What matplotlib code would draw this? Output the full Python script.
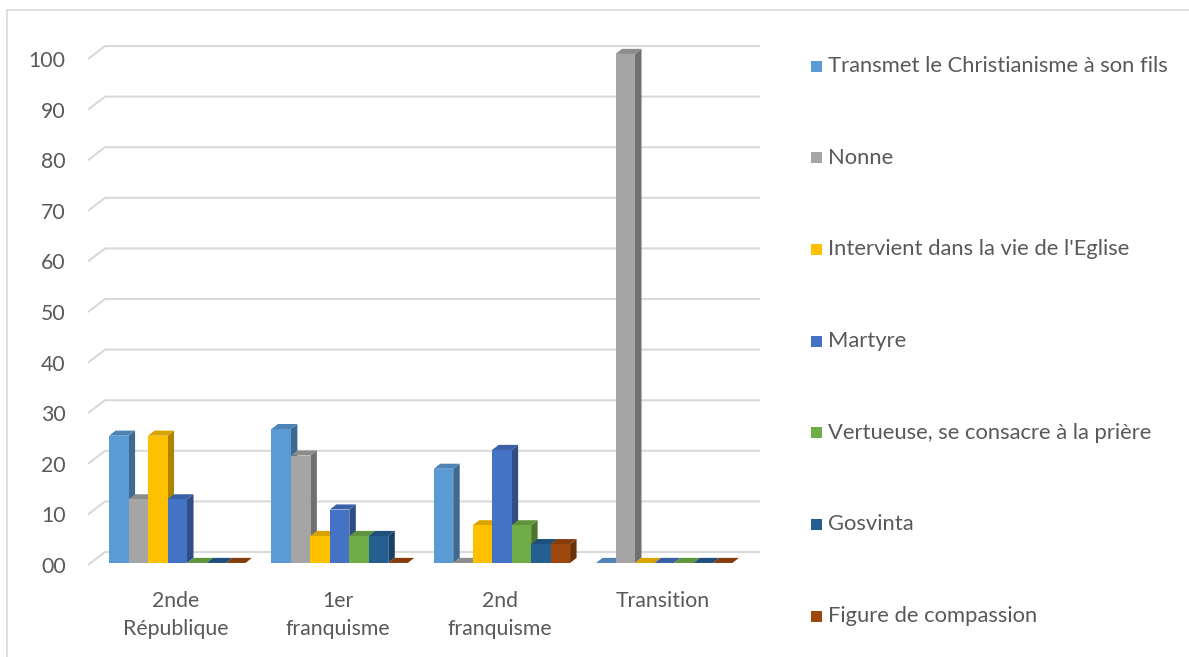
import matplotlib
matplotlib.use("Agg")
import matplotlib.pyplot as plt
from matplotlib.patches import Polygon, Rectangle
import matplotlib.colors as mcolors

categories = ["2nde\nRépublique", "1er\nfranquisme", "2nd\nfranquisme", "Transition"]
series_names = ["Transmet le Christianisme à son fils", "Nonne",
                "Intervient dans la vie de l'Eglise", "Martyre",
                "Vertueuse, se consacre à la prière", "Gosvinta",
                "Figure de compassion"]
transmet = [25.0, 26.3, 18.5, 0.0]
nonne = [12.5, 21.1, 0.0, 100.0]
intervient = [25.0, 5.3, 7.4, 0.0]
martyre = [12.5, 10.5, 22.2, 0.0]
vertueuse = [0.0, 5.3, 7.4, 0.0]
gosvinta = [0.0, 5.3, 3.7, 0.0]
compassion = [0.0, 0.0, 3.7, 0.0]
series = [transmet, nonne, intervient, martyre, vertueuse, gosvinta, compassion]
colors = ["#5B9BD5", "#A5A5A5", "#FFC000", "#4472C4", "#70AD47", "#255E91", "#9E480E"]
yticks = [0, 10, 20, 30, 40, 50, 60, 70, 80, 90, 100]
ytick_labels = ["00", "10", "20", "30", "40", "50", "60", "70", "80", "90", "100"]

W, H = 1189, 657
fig = plt.figure(figsize=(W / 100, H / 100), dpi=100)
font = "Lato"
fs = 15.3
tcol = "#595959"

# outer border
fig.add_artist(Rectangle((7 / W, -0.01), 1.2, (H - 10) / H + 0.01, transform=fig.transFigure,
                         fill=False, edgecolor="#D9D9D9", linewidth=1.2))

ax_l, ax_r, ax_b, ax_t = 88, 760, 565, 38
scale = 5.11
ax = fig.add_axes([ax_l / W, (H - ax_b) / H, (ax_r - ax_l) / W, (ax_b - ax_t) / H])
xmin, xmax = -0.54, 3.6
ax.set_xlim(xmin, xmax)
ymax = (ax_b - ax_t) / scale
ax.set_ylim(0, ymax)
for s in ax.spines.values():
    s.set_visible(False)


def front_level(v):
    return v * 0.994 - 0.4


gdx, gdy = 0.105, 2.55
for v in yticks:
    f = front_level(v)
    ax.plot([xmin, xmin + gdx, xmax], [f, f + gdy, f + gdy], color="#D9D9D9", lw=1.5,
            zorder=0, solid_capstyle="butt", clip_on=False)

ax.set_yticks([front_level(v) for v in yticks])
ax.set_yticklabels(ytick_labels, fontfamily=font, fontsize=fs, color=tcol)
ax.tick_params(axis="y", length=0, pad=16)
ax.set_xticks(range(len(categories)))
ax.set_xticklabels(categories, fontfamily=font, fontsize=fs, color=tcol, linespacing=1.45)
ax.tick_params(axis="x", length=0, pad=19)

bw = 0.12
bdx, bdy = 0.04, 1.0


def darker(c, f):
    r, g, b = mcolors.to_rgb(c)
    return (r * f, g * f, b * f)


for k, (vals, col) in enumerate(zip(series, colors)):
    for i, v in enumerate(vals):
        x0 = i + (k - 3.5) * bw + 0.01
        x1 = x0 + bw
        # side
        ax.add_patch(Polygon([(x1, 0), (x1 + bdx, bdy), (x1 + bdx, v + bdy), (x1, v)],
                             closed=True, facecolor=darker(col, 0.68), edgecolor="none", zorder=2 + k))
        # top
        ax.add_patch(Polygon([(x0, v), (x0 + bdx, v + bdy), (x1 + bdx, v + bdy), (x1, v)],
                             closed=True, facecolor=darker(col, 0.85), edgecolor="none", zorder=2 + k))
        # front
        if v > 0:
            ax.add_patch(Rectangle((x0, 0), bw, v, facecolor=col, edgecolor="none", zorder=2 + k))

# legend
ly0, lstep = 66, 91.7
for k, (name, col) in enumerate(zip(series_names, colors)):
    y = ly0 + k * lstep
    fig.add_artist(Rectangle((811 / W, (H - y - 5.5) / H), 11 / W, 11 / H, transform=fig.transFigure,
                             facecolor=col, edgecolor="none"))
    fig.text(828 / W, (H - y) / H, name, fontfamily=font, fontsize=15.8, color=tcol,
             va="center", ha="left")

fig.savefig("out.png", dpi=100)
